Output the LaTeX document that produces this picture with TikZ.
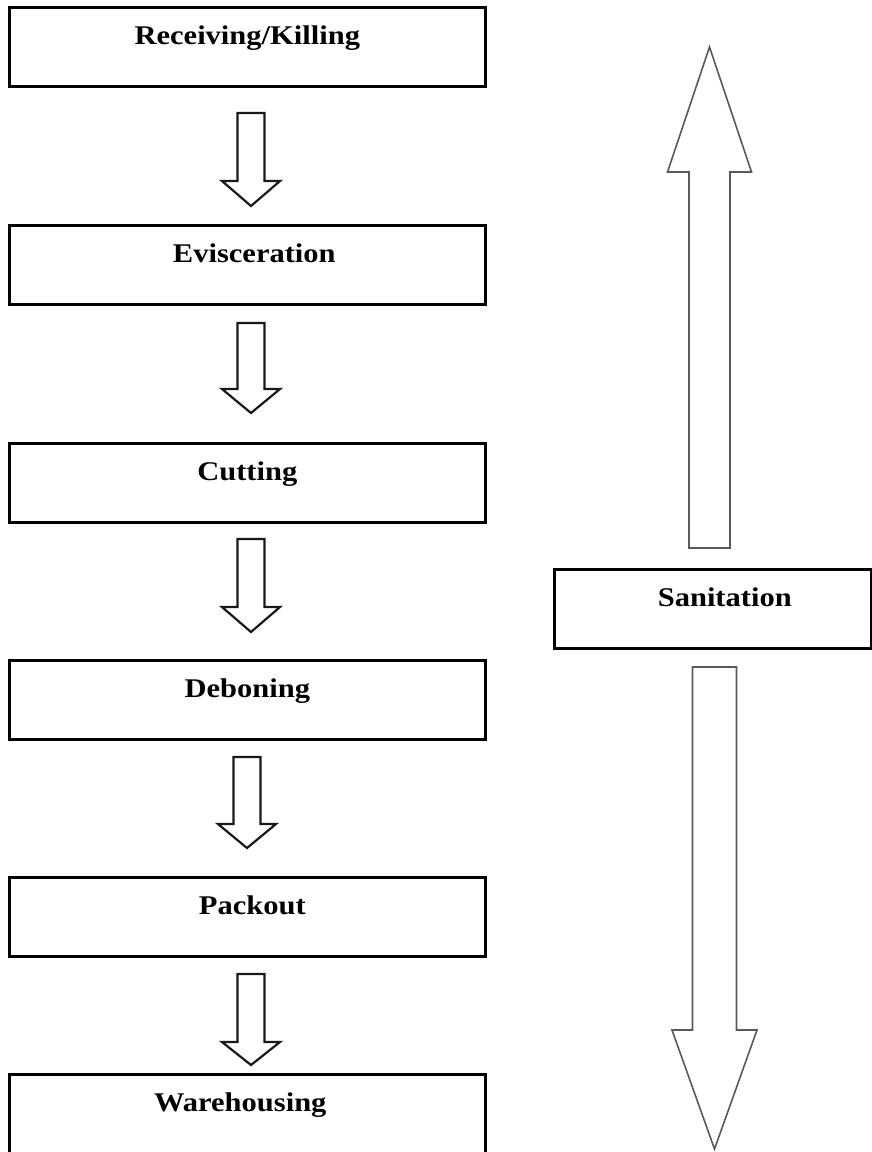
\documentclass[tikz,border=0pt]{standalone}
\usepackage{fontspec}
\setmainfont[FakeStretch=1.13]{Liberation Serif}
\usetikzlibrary{calc}

% Block arrow between two named coordinates:
% #1 style, #2 shaft end, #3 tip, #4 shaft half width, #5 head half width,
% #6 signed offset from tip to head base
\newcommand{\blockarrow}[6]{%
  \draw[#1] let \p1=(#2), \p2=(#3) in
    (\x1-#4,\y1) -- (\x1+#4,\y1) -- (\x1+#4,\y2+#6) -- (\x1+#5,\y2+#6)
    -- (\x2,\y2) -- (\x1-#5,\y2+#6) -- (\x1-#4,\y2+#6) -- cycle;}

\begin{document}
\begin{tikzpicture}[x=1pt,y=-1pt,
  stagebox/.style={draw=black, line width=2.6pt, anchor=north west,
    minimum width=476pt, inner xsep=0pt, inner ysep=0pt,
    text height=37pt, text depth=42pt,
    font=\fontsize{27}{32}\selectfont\bfseries},
  sidebox/.style={stagebox, minimum width=317pt},
  flowarrow/.style={draw=black!90, line width=2.2pt, line join=miter, fill=white},
  bigarrow/.style={draw=black!65, line width=1.6pt, line join=miter, fill=white}]
\useasboundingbox (0,0) rectangle (872,1152);

% process stages
\node[stagebox] (recv)  at (8,6)    {Receiving/Killing};
\node[stagebox] (evisc) at (8,224)  {\hspace*{14pt}Evisceration};
\node[stagebox] (cut)   at (8,442)  {Cutting};
\node[stagebox] (debon) at (8,659)  {Deboning};
\node[stagebox] (pack)  at (8,876)  {\hspace*{10pt}Packout};
\node[stagebox] (ware)  at (8,1073) {\hspace*{-14pt}Warehousing};

% sanitation runs alongside all stages
\node[sidebox] (san) at (553,568) {\hspace*{24pt}Sanitation};

% arrow ends between stages
\coordinate (a1s) at (251,113);  \coordinate (a1t) at (251,206);
\coordinate (a2s) at (251,323);  \coordinate (a2t) at (251,413);
\coordinate (a3s) at (251,539);  \coordinate (a3t) at (251,632);
\coordinate (a4s) at (247,757);  \coordinate (a4t) at (247,848);
\coordinate (a5s) at (251,974);  \coordinate (a5t) at (251,1065);

\blockarrow{flowarrow}{a1s}{a1t}{13.5pt}{29pt}{25pt}
\blockarrow{flowarrow}{a2s}{a2t}{13.5pt}{29pt}{24pt}
\blockarrow{flowarrow}{a3s}{a3t}{13.5pt}{29pt}{25pt}
\blockarrow{flowarrow}{a4s}{a4t}{13.5pt}{29pt}{24pt}
\blockarrow{flowarrow}{a5s}{a5t}{13.5pt}{29pt}{23pt}

% sanitation arrows, upward and downward
\coordinate (upS) at (709.5,548);  \coordinate (upT) at (709.5,47);
\coordinate (dnS) at (714.5,667);  \coordinate (dnT) at (714.5,1149);
\blockarrow{bigarrow}{upS}{upT}{20.5pt}{42pt}{-125pt}
\blockarrow{bigarrow}{dnS}{dnT}{22pt}{42.5pt}{119pt}
\end{tikzpicture}
\end{document}
